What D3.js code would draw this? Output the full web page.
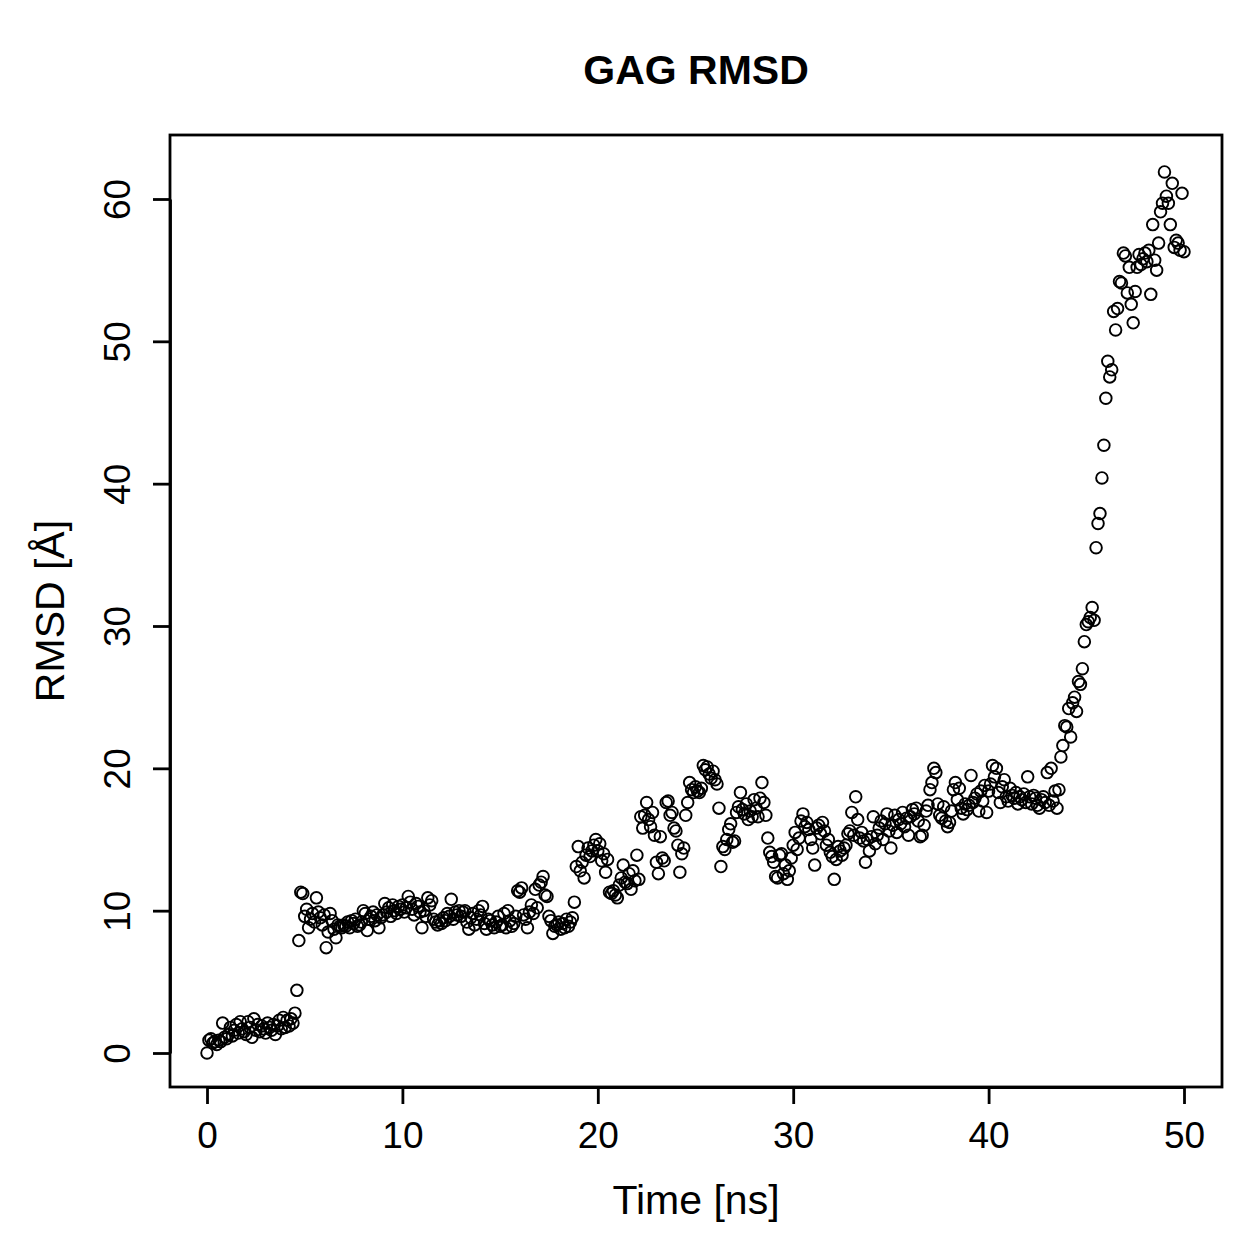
<!DOCTYPE html>
<html>
<head>
<meta charset="utf-8">
<script src="https://cdn.jsdelivr.net/npm/d3@7"></script>
<style>
  body { margin: 0; background: #fff; }
  text { font-family: "Liberation Sans", Arial, Helvetica, sans-serif; fill: #000; }
</style>
</head>
<body>
<div id="chart"></div>
<script>
// RMSD values, one row per nanosecond (sampled every 0.1 ns)
const rmsdRows = [
  [0.0, 0.9, 1.0, 0.7, 0.8, 0.6, 0.9, 0.8, 2.1, 1.1],
  [1.0, 1.3, 1.8, 1.2, 1.6, 2.0, 1.4, 2.2, 1.7, 1.5],
  [1.3, 2.2, 1.8, 1.1, 2.4, 1.6, 2.0, 1.5, 1.9, 1.7],
  [1.4, 2.1, 1.8, 1.6, 2.0, 1.3, 1.9, 2.3, 1.7, 2.5],
  [1.8, 2.3, 1.9, 2.4, 2.1, 2.8, 4.4, 7.9, 11.3, 11.2],
  [9.6, 10.1, 8.8, 9.4, 9.8, 9.2, 10.9, 9.9, 9.5, 9.0],
  [9.7, 7.4, 8.5, 9.8, 9.3, 8.7, 8.1, 9.0, 8.9, 8.8],
  [9.0, 8.9, 9.2, 8.8, 9.3, 9.1, 9.4, 8.9, 9.0, 9.2],
  [10.0, 9.8, 8.6, 9.4, 9.6, 9.9, 9.3, 9.7, 8.8, 9.5],
  [9.7, 10.5, 9.9, 10.2, 9.6, 10.4, 10.0, 9.8, 10.3, 10.1],
  [10.4, 9.9, 10.2, 11.0, 10.6, 10.1, 9.7, 10.5, 10.3, 9.9],
  [8.8, 10.0, 9.6, 10.9, 10.4, 10.7, 9.4, 9.2, 9.0, 9.3],
  [9.1, 9.5, 9.3, 9.8, 9.6, 10.8, 9.4, 9.9, 9.7, 10.0],
  [9.6, 9.9, 10.0, 9.2, 8.7, 9.5, 9.8, 9.0, 9.4, 10.0],
  [9.7, 10.3, 9.1, 8.7, 9.4, 9.3, 9.0, 8.8, 9.2, 9.6],
  [8.9, 9.0, 9.8, 8.8, 10.0, 9.3, 8.9, 9.1, 9.6, 11.4],
  [11.3, 11.6, 9.7, 9.4, 8.8, 9.9, 10.4, 9.8, 11.5, 10.2],
  [11.8, 12.0, 12.4, 11.1, 11.0, 9.6, 9.3, 8.4, 8.9, 9.0],
  [9.2, 8.7, 9.1, 8.8, 9.4, 8.9, 9.2, 9.5, 10.6, 13.1],
  [14.5, 12.8, 13.4, 12.3, 13.9, 14.4, 13.8, 14.2, 14.6, 15.0],
  [14.2, 14.7, 13.5, 14.0, 12.7, 13.6, 11.3, 11.2, 11.4, 11.1],
  [10.9, 11.8, 12.3, 13.2, 12.0, 11.9, 12.6, 11.5, 12.8, 12.1],
  [13.9, 12.2, 16.6, 15.8, 16.7, 17.6, 16.4, 15.9, 16.9, 15.3],
  [13.4, 12.6, 15.2, 13.7, 13.5, 17.6, 17.7, 16.7, 16.9, 15.8],
  [15.6, 14.6, 12.7, 14.0, 14.4, 16.7, 17.6, 19.0, 18.5, 18.3],
  [18.7, 18.4, 18.3, 18.6, 20.2, 19.9, 20.1, 19.6, 19.3, 19.8],
  [19.2, 18.9, 17.2, 13.1, 14.5, 14.3, 15.0, 15.7, 16.1, 14.8],
  [14.9, 16.9, 17.3, 18.3, 17.1, 16.8, 17.5, 16.4, 17.0, 16.6],
  [17.8, 17.2, 16.6, 17.9, 19.0, 17.6, 16.7, 15.1, 14.1, 13.8],
  [13.4, 12.4, 12.3, 13.9, 14.0, 12.6, 13.2, 12.2, 12.8, 13.7],
  [14.6, 15.5, 14.3, 15.1, 16.3, 16.8, 15.9, 16.2, 15.7, 15.0],
  [14.4, 13.2, 15.8, 16.0, 15.4, 16.2, 15.6, 14.6, 15.0, 14.1],
  [13.8, 12.2, 13.6, 14.5, 14.2, 13.9, 14.4, 14.6, 15.4, 15.6],
  [16.9, 15.3, 18.0, 16.4, 15.1, 15.5, 14.9, 13.4, 15.0, 14.2],
  [15.2, 16.6, 14.7, 15.3, 15.8, 16.3, 15.0, 16.1, 16.8, 15.6],
  [14.4, 16.0, 16.7, 15.5, 16.4, 16.1, 16.9, 15.9, 16.5, 15.3],
  [16.6, 17.1, 16.8, 17.2, 16.3, 15.2, 15.3, 16.0, 17.0, 17.4],
  [18.5, 19.0, 20.0, 19.7, 17.5, 16.7, 16.5, 17.3, 16.3, 15.9],
  [16.2, 17.0, 18.5, 19.0, 17.8, 18.6, 17.2, 16.8, 17.5, 17.1],
  [17.4, 19.5, 17.6, 17.9, 18.2, 17.0, 18.4, 17.7, 18.8, 16.9],
  [18.4, 18.9, 20.2, 19.4, 20.0, 18.3, 17.6, 18.7, 19.2, 18.0],
  [17.7, 18.6, 18.1, 17.9, 18.3, 17.5, 18.0, 17.8, 18.2, 17.6],
  [19.4, 18.0, 17.5, 18.1, 17.9, 17.4, 17.2, 17.8, 18.0, 17.6],
  [19.7, 17.4, 20.0, 17.7, 18.4, 17.2, 18.5, 20.8, 21.6, 23.0],
  [22.9, 24.2, 22.2, 24.6, 25.0, 24.0, 26.1, 25.9, 27.0, 28.9],
  [30.1, 30.3, 30.6, 31.3, 30.4, 35.5, 37.2, 37.9, 40.4, 42.7],
  [46.0, 48.6, 47.5, 48.0, 52.1, 50.8, 52.3, 54.2, 54.1, 56.2],
  [56.0, 53.4, 55.2, 52.6, 51.3, 53.5, 55.2, 56.1, 55.4, 55.8],
  [56.2, 55.6, 56.4, 53.3, 58.2, 55.7, 55.0, 56.9, 59.1, 59.7],
  [61.9, 60.2, 59.7, 58.2, 61.1, 56.6, 57.1, 56.9, 56.4, 60.4],
  [56.3]
];
const timeStep = 0.1;   // ns between frames
const xTicks = [0, 10, 20, 30, 40, 50];
const yTicks = [0, 10, 20, 30, 40, 50, 60];
const titleText = 'GAG RMSD';
const xLabel = 'Time [ns]';
const yLabel = 'RMSD [Å]';

// flatten rows into points
const rmsd = rmsdRows.flat();
const points = rmsd.map(function(v, i){ return {t: i * timeStep, v: v}; });

const W = 1259, H = 1259;
const box = {l: 170, r: 1222, t: 135, b: 1087};

const svg = d3.select('#chart')
  .append('svg')
  .attr('width', W)
  .attr('height', H);

// R-style domain padding (4%) is folded into these ranges
const x = d3.scaleLinear().domain([0, 50]).range([207, 1184]);
const y = d3.scaleLinear().domain([0, 60]).range([1053, 199]);

// points
svg.append('g')
  .selectAll('circle')
  .data(points)
  .enter()
  .append('circle')
  .attr('cx', function(d){ return x(d.t); })
  .attr('cy', function(d){ return y(d.v); })
  .attr('r', 5.8)
  .attr('fill', 'none')
  .attr('stroke', '#000')
  .attr('stroke-width', 1.9);

// box
svg.append('rect')
  .attr('x', box.l)
  .attr('y', box.t)
  .attr('width', box.r - box.l)
  .attr('height', box.b - box.t)
  .attr('fill', 'none')
  .attr('stroke', '#000')
  .attr('stroke-width', 2.8);

// x axis
const xAxis = svg.append('g')
  .attr('transform', `translate(0, ${box.b})`)
  .call(d3.axisBottom(x).tickValues(xTicks).tickSize(17).tickPadding(18).tickSizeOuter(0));
// y axis
const yAxis = svg.append('g')
  .attr('transform', `translate(${box.l}, 0)`)
  .call(d3.axisLeft(y).tickValues(yTicks).tickSize(17).tickPadding(10).tickSizeOuter(0));

[xAxis, yAxis].forEach(function(g){
  g.select('.domain').attr('stroke-width', 2.8);
  g.selectAll('.tick line').attr('stroke-width', 2.8);
  g.selectAll('.tick text')
    .style('font-family', '"Liberation Sans", Arial, sans-serif')
    .style('font-size', '37px')
    .attr('fill', '#000');
});

// y tick labels are parallel to the axis in R
yAxis.selectAll('.tick text')
  .attr('x', null)
  .attr('dy', null)
  .attr('text-anchor', 'middle')
  .attr('transform', 'translate(-40, 0) rotate(-90)');

// title
svg.append('text')
  .attr('x', (box.l + box.r) / 2)
  .attr('y', 84)
  .attr('text-anchor', 'middle')
  .style('font-size', '41px')
  .style('font-weight', 'bold')
  .text(titleText);

// axis labels
svg.append('text')
  .attr('x', (box.l + box.r) / 2)
  .attr('y', 1214)
  .attr('text-anchor', 'middle')
  .style('font-size', '41px')
  .text(xLabel);

svg.append('text')
  .attr('transform', `translate(64, ${(box.t + box.b) / 2}) rotate(-90)`)
  .attr('text-anchor', 'middle')
  .style('font-size', '41px')
  .text(yLabel);
</script>
</body>
</html>
